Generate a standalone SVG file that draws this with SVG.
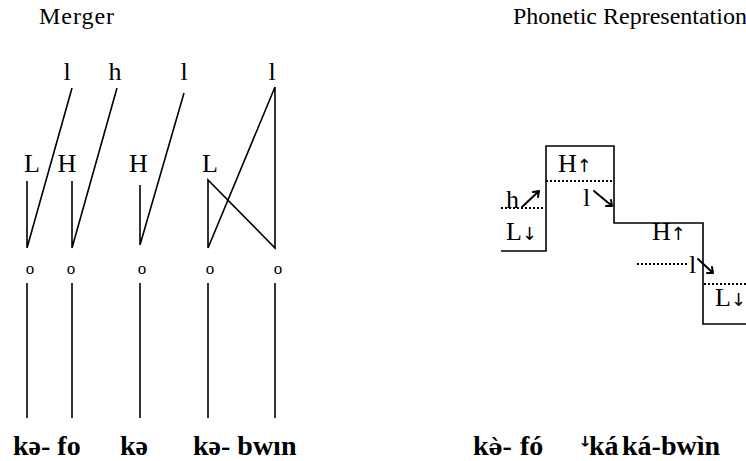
<svg xmlns="http://www.w3.org/2000/svg" width="746" height="461" viewBox="0 0 746 461">
<style>
.t{font-family:"Liberation Serif","Times New Roman",serif;font-size:24px;fill:#000}
.g{font-family:"Liberation Serif","Times New Roman",serif;font-size:26px;fill:#000}
.a{font-family:"DejaVu Sans",sans-serif;font-size:18px;fill:#000}
.o{font-family:"Liberation Serif","Times New Roman",serif;font-size:17px;fill:#000}
.b{font-family:"Liberation Serif","Times New Roman",serif;font-size:28px;font-weight:bold;fill:#000}
.ln{stroke:#000;stroke-width:1.6;fill:none}
.dot{stroke:#000;stroke-width:2;stroke-dasharray:2 2;fill:none}
.ar{stroke:#000;stroke-width:2;fill:none;stroke-linecap:round}
</style>
<g id="titles">
<text class="t" x="39" y="24" textLength="75">Merger</text>
<text class="t" x="513" y="24">Phonetic Representation</text>
</g>
<g id="tones-left">
<text class="g" x="67" y="80" text-anchor="middle">l</text>
<text class="g" x="115" y="80" text-anchor="middle">h</text>
<text class="g" x="184" y="80" text-anchor="middle">l</text>
<text class="g" x="272" y="80" text-anchor="middle">l</text>
<text class="g" x="32" y="172" text-anchor="middle">L</text>
<text class="g" x="67" y="172" text-anchor="middle">H</text>
<text class="g" x="138.5" y="172" text-anchor="middle">H</text>
<text class="g" x="210" y="172" text-anchor="middle">L</text>
</g>
<g id="syllables">
<text class="o" x="30" y="274" text-anchor="middle">o</text>
<text class="o" x="71" y="274" text-anchor="middle">o</text>
<text class="o" x="142" y="274" text-anchor="middle">o</text>
<text class="o" x="210" y="274" text-anchor="middle">o</text>
<text class="o" x="278" y="274" text-anchor="middle">o</text>
</g>
<g id="connectors">
<path class="ln" d="M72 88L27 248M27 181V248"/>
<path class="ln" d="M117 88L72 248M72 181V248"/>
<path class="ln" d="M184 93L140 245M140 185V245"/>
<path class="ln" d="M275 87L208 248M275 87V248L208 180V248"/>
<path class="ln" d="M27 283V418M72 283V418M140 283V418M208 283V418M275 283V418"/>
</g>
<g id="words-left">
<text class="b" x="13" y="455">kə- fo</text>
<text class="b" x="120" y="455">kə</text>
<text class="b" x="193" y="455">kə- bwın</text>
</g>
<g id="pitch">
<path class="ln" d="M501 251H546V146H614V223H703V324H746"/>
<path class="dot" d="M501 208H543M546 181H613M637 264H689M704 284H746"/>
<path class="ar" d="M522 207L539 191M539 191l-6 1M539 191l-1 6"/>
<path class="ar" d="M594 191L612 206M612 206l-1-6M612 206l-6 0"/>
<path class="ar" d="M698 259L713 273M713 273l-1-6M713 273l-6 0"/>
</g>
<g id="tones-right">
<text class="g" x="558" y="172">H<tspan class="a">↑</tspan></text>
<text class="g" x="506" y="208">h</text>
<text class="g" x="583" y="206">l</text>
<text class="g" x="506" y="240">L<tspan class="a">↓</tspan></text>
<text class="g" x="652" y="240">H<tspan class="a">↑</tspan></text>
<text class="g" x="689" y="273">l</text>
<text class="g" x="715" y="306">L<tspan class="a">↓</tspan></text>
</g>
<g id="words-right">
<text class="b" x="473" y="455">k<tspan style="font-family:'DejaVu Serif',serif;font-size:22px">ə̀</tspan>-</text>
<text class="b" x="520" y="455">fó</text>
<text x="580" y="455" style="font-size:26px;font-family:'DejaVu Sans',sans-serif;font-weight:bold">ꜜ</text>
<text class="b" x="589" y="455">ká</text>
<text class="b" x="622" y="455">ká-bwìn</text>
</g>
</svg>
